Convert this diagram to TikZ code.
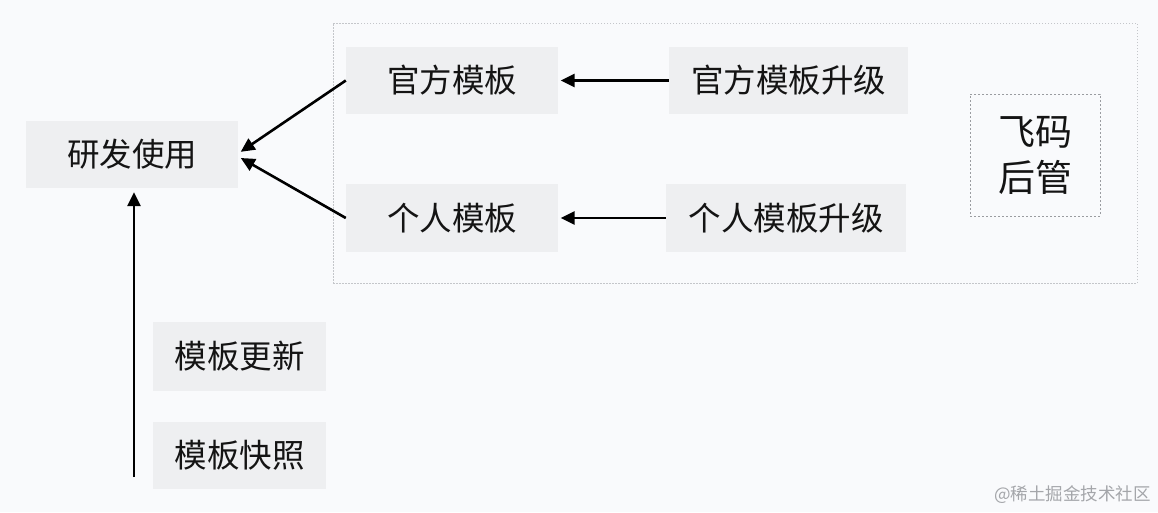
\documentclass[tikz,border=0pt]{standalone}
\usepackage{fontspec}
\newfontfamily\cjk{Noto Sans CJK SC}
\usetikzlibrary{arrows.meta}
\definecolor{bgc}{HTML}{F9FAFC}
\definecolor{boxc}{HTML}{EEEFF1}
\definecolor{txtc}{HTML}{141414}
\definecolor{outerc}{HTML}{C4C6CA}
\definecolor{innerc}{HTML}{9A9CA0}
\definecolor{wmc}{HTML}{A4A6AA}
\tikzset{
  graybox/.style={fill=boxc, draw=none, inner sep=0pt, text=txtc,
    font=\cjk\fontsize{32.5}{38}\selectfont, minimum height=67pt},
  conn/.style={draw=black, line width=2.6pt, -{Triangle[length=14pt,width=13pt]}},
}
\begin{document}
\begin{tikzpicture}[x=1pt,y=-1pt]
\fill[bgc] (0,0) rectangle (1158,512);
\useasboundingbox (0,0) rectangle (1158,512);
% outer dashed frame
\node[draw=outerc, line width=0.9pt, dash pattern=on 1.5pt off 1.5pt, inner sep=0pt,
  minimum width=804pt, minimum height=260pt] (outer) at (735,153) {};
% nodes
\node[graybox, minimum width=212pt] (dev) at (132,154.5) {研发使用};
\node[graybox, minimum width=212pt] (off) at (452,80.5) {官方模板};
\node[graybox, minimum width=212pt, minimum height=68pt] (per) at (452,218) {个人模板};
\node[graybox, minimum width=239pt] (offup) at (788.5,80.5) {官方模板升级};
\node[graybox, minimum width=240pt, minimum height=68pt] (perup) at (786,218) {个人模板升级};
\node[graybox, minimum width=173pt, minimum height=69pt] (upd) at (239.5,356.5) {模板更新};
\node[graybox, minimum width=173pt] (snap) at (239.5,455.5) {模板快照};
\node[draw=innerc, line width=0.9pt, dash pattern=on 2pt off 2pt, inner sep=0pt,
  minimum width=130pt, minimum height=122pt, align=center, text=txtc,
  font=\cjk\fontsize{37}{46}\selectfont] (feima) at (1035,155) {飞码\\后管};
% connectors
\draw[conn, shorten >=2.5pt] (offup.west) -- (off.east);
\draw[conn, shorten >=2.5pt] (perup.west) -- (per.east);
\draw[conn, shorten >=3pt] (off.west) -- ([yshift=1pt]dev.east);
\draw[conn, shorten >=3pt] (per.west) -- ([yshift=-2pt]dev.east);
\coordinate (vbot) at (134,477);
\draw[conn, shorten >=4pt] (vbot) -- (vbot |- dev.south);
% watermark
\node[anchor=east, inner sep=0pt, text=wmc, font=\cjk\fontsize{17.5}{20}\selectfont] (wm) at (1151,495) {@稀土掘金技术社区};
\end{tikzpicture}
\end{document}
